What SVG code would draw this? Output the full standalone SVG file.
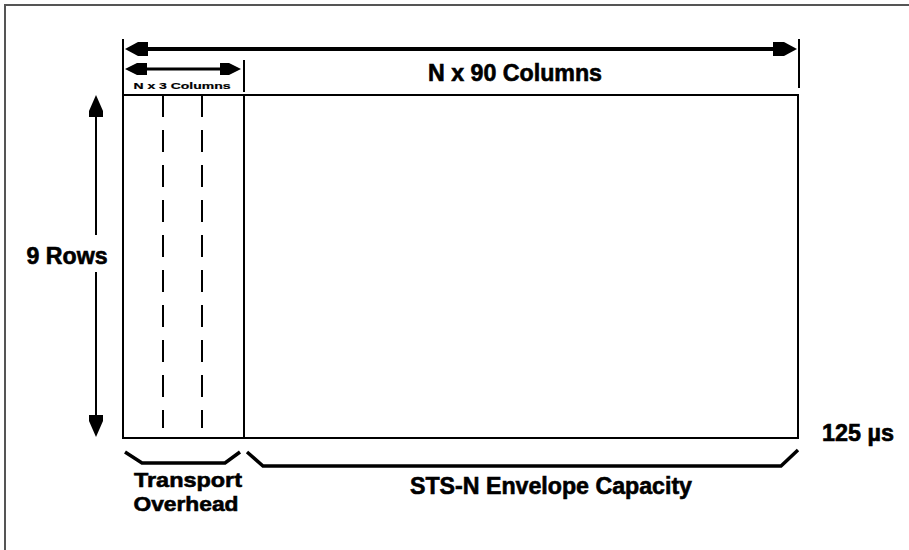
<svg xmlns="http://www.w3.org/2000/svg" width="909" height="550" viewBox="0 0 909 550">
<style>
.ln{stroke:#000;stroke-width:2;fill:none}
.fr{stroke:#555;stroke-width:2;fill:none}
.dash{stroke:#000;stroke-width:2;stroke-dasharray:22 13}
.t{font-family:"Liberation Sans",Arial,sans-serif;font-weight:bold;fill:#000;stroke:#000;stroke-width:0.6}
.brace{stroke:#000;stroke-width:3.5;fill:none}
.head{fill:#000}
</style>
<rect width="909" height="550" fill="#fff"/>
<path class="fr" d="M5,550 V5 H909"/>
<g id="frame">
<rect class="ln" x="123" y="95" width="675" height="343"/>
<line class="ln" x1="244" y1="95" x2="244" y2="438"/>
<line class="dash" x1="163" y1="95" x2="163" y2="428"/>
<line class="dash" x1="202" y1="95" x2="202" y2="428"/>
</g>
<g id="connectors">
<line class="ln" x1="123" y1="39" x2="123" y2="95"/>
<line class="ln" x1="799" y1="39" x2="799" y2="88"/>
<line class="ln" x1="244" y1="60" x2="244" y2="92"/>
<line x1="140" y1="49" x2="780" y2="49" stroke="#000" stroke-width="4"/>
<path class="head" d="M125,49 L138,42 L148,42 L148,56 L138,56 Z"/>
<path class="head" d="M797,49 L784,42 L773,42 L773,56 L784,56 Z"/>
<line x1="140" y1="69" x2="228" y2="69" stroke="#000" stroke-width="3"/>
<path class="head" d="M125,69 L137,63 L147,63 L147,75 L137,75 Z"/>
<path class="head" d="M241,69 L229,63 L220,63 L220,75 L229,75 Z"/>
<line x1="96" y1="110" x2="96" y2="235" stroke="#000" stroke-width="2"/>
<line x1="96" y1="272" x2="96" y2="422" stroke="#000" stroke-width="2"/>
<path class="head" d="M96,95 L103,111 L103,117 L89,117 L89,111 Z"/>
<path class="head" d="M96,437 L103,421 L103,415 L89,415 L89,421 Z"/>
<path class="brace" d="M125,452 L142,463 H225 L240,452"/>
<path class="brace" d="M247,452 L263,466 H781 L798,450"/>
</g>
<g id="labels">
<text class="t" x="515" y="81" font-size="23" text-anchor="middle" textLength="174" lengthAdjust="spacingAndGlyphs">N x 90 Columns</text>
<text class="t" x="182" y="89" font-size="9" text-anchor="middle" textLength="97" lengthAdjust="spacingAndGlyphs" style="stroke-width:0.2">N x 3 Columns</text>
<text class="t" x="67" y="264" font-size="23" text-anchor="middle" textLength="81" lengthAdjust="spacingAndGlyphs">9 Rows</text>
<text class="t" x="822" y="441" font-size="23" textLength="72" lengthAdjust="spacingAndGlyphs">125 µs</text>
<text class="t" x="188" y="487" font-size="21" text-anchor="middle" textLength="108" lengthAdjust="spacingAndGlyphs">Transport</text>
<text class="t" x="186" y="511" font-size="21" text-anchor="middle" textLength="105" lengthAdjust="spacingAndGlyphs">Overhead</text>
<text class="t" x="551" y="494" font-size="23" text-anchor="middle" textLength="282" lengthAdjust="spacingAndGlyphs">STS-N Envelope Capacity</text>
</g>
</svg>
